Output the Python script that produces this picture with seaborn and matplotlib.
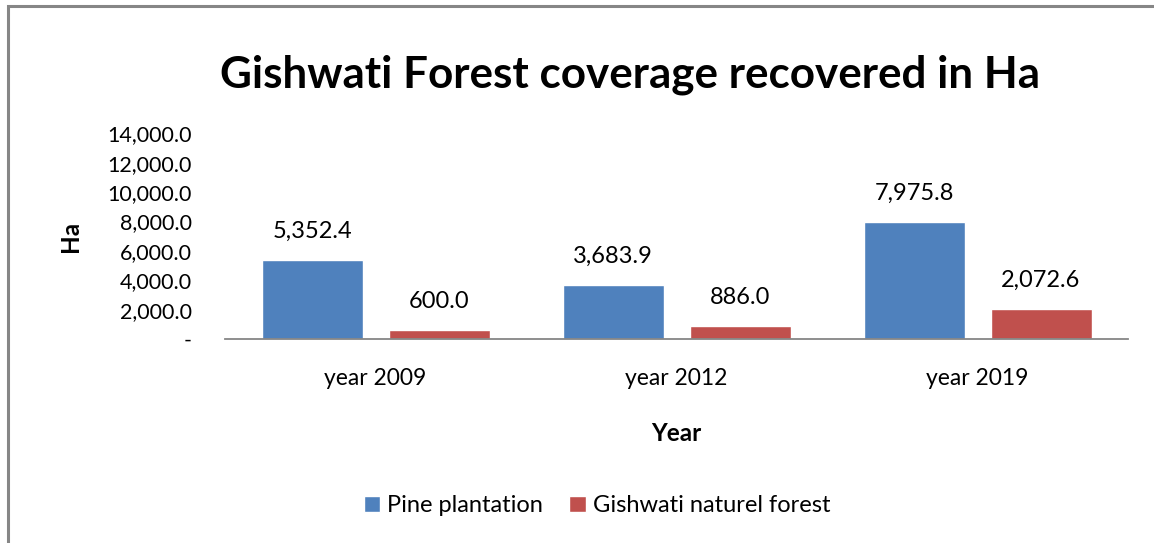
import matplotlib
matplotlib.use("Agg")
import matplotlib.pyplot as plt
import seaborn as sns
import pandas as pd
from matplotlib.patches import Rectangle
from matplotlib.ticker import FuncFormatter, MultipleLocator

years = ["year 2009", "year 2012", "year 2019"]
series_names = ["Pine plantation", "Gishwati naturel forest"]
pine = [5352.4, 3683.9, 7975.8]
natural = [600.0, 886.0, 2072.6]
colors = ["#4F81BD", "#C0504D"]

df = pd.DataFrame({
    "Year": years * 2,
    "Ha": pine + natural,
    "Series": [series_names[0]] * 3 + [series_names[1]] * 3,
})

sns.set_theme(style="white")
plt.rcParams["font.family"] = ["Lato", "DejaVu Sans"]
plt.rcParams["text.color"] = "black"

fig = plt.figure(figsize=(11.54, 5.43), dpi=100)
ax = fig.add_axes([0.195, 0.3757, 0.7825, 0.379])

sns.barplot(data=df, x="Year", y="Ha", hue="Series", palette=colors,
            width=0.844, gap=0.205, ax=ax, saturation=1, legend=True)

ax.set_ylim(0, 14000)
ax.yaxis.set_major_locator(MultipleLocator(2000))
ax.yaxis.set_major_formatter(FuncFormatter(lambda v, p: "-" if v == 0 else f"{v:,.1f}"))
ax.tick_params(axis="y", length=0, pad=24, labelsize=15.5, colors="black")
ax.tick_params(axis="x", length=0, pad=21, labelsize=16.5, colors="black")
for s in ["top", "right", "left"]:
    ax.spines[s].set_visible(False)
ax.spines["bottom"].set_color("#868686")
ax.spines["bottom"].set_linewidth(1.3)

ax.set_xlabel("Year", fontsize=17.5, fontweight="bold", labelpad=24, color="black")
ax.set_ylabel("Ha", fontsize=17.5, fontweight="bold", labelpad=18, color="black")

for cont in ax.containers:
    ax.bar_label(cont, labels=[f"{b.get_height():,.1f}" for b in cont],
                 padding=13, fontsize=17, color="black")

leg = ax.legend(loc="center", bbox_to_anchor=(0.412, -0.81), ncol=2,
                frameon=False, fontsize=17, handlelength=0.7, handleheight=0.7,
                columnspacing=1.1, handletextpad=0.3)
for t in leg.get_texts():
    t.set_color("black")

fig.text(0.546, 0.862, "Gishwati Forest coverage recovered in Ha",
         ha="center", va="center", fontsize=31.7, fontweight="bold", color="black")

fig.patches.append(Rectangle((0.0069, -0.05), 1.2, 1.039, transform=fig.transFigure,
                             fill=False, edgecolor="#868686", linewidth=2.2))

fig.savefig("out.png", dpi=100)
